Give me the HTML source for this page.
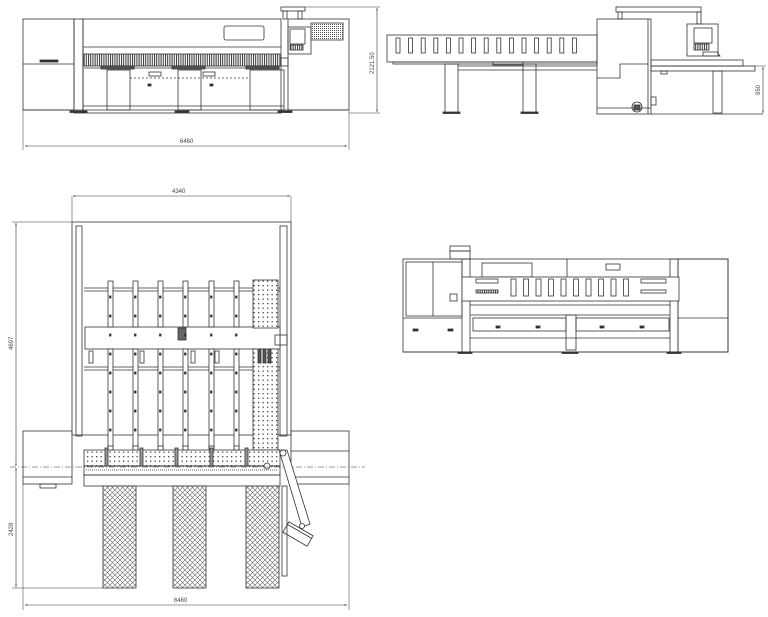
<!DOCTYPE html>
<html><head><meta charset="utf-8"><style>
html,body{margin:0;padding:0;background:#fff;}
svg{display:block;}
text{font-family:"Liberation Sans",sans-serif;font-size:6px;fill:#444;}
</style></head><body>
<svg id="s" width="768" height="617" viewBox="0 0 768 617" xmlns="http://www.w3.org/2000/svg">
<defs>
<pattern id="hatch" width="2.2" height="4" patternUnits="userSpaceOnUse"><rect width="2.2" height="4" fill="#fff"/><rect width="1" height="4" fill="#333"/></pattern>
<pattern id="fine" width="2" height="2" patternUnits="userSpaceOnUse"><rect width="2" height="2" fill="#fff"/><rect width="1" height="1" fill="#555"/></pattern>
<pattern id="dots" width="4.5" height="4.5" patternUnits="userSpaceOnUse"><rect width="4.5" height="4.5" fill="#fff"/><rect x="1.5" y="1.5" width="1.3" height="1.3" fill="#444"/></pattern>
<pattern id="cross" width="5" height="5" patternUnits="userSpaceOnUse"><rect width="5" height="5" fill="#fff"/><path d="M0 0L5 5M5 0L0 5" stroke="#666" stroke-width="0.6"/></pattern>
<marker id="ar" viewBox="0 0 10 10" refX="10" refY="5" markerWidth="6" markerHeight="4" orient="auto-start-reverse"><path d="M0 2L10 5L0 8z" fill="#333"/></marker>
</defs>
<g fill="none" stroke="#333" stroke-width="0.8" id="g">
<!-- VIEW 1 -->
<rect x="23" y="19" width="51" height="91"/>
<line x1="23" y1="64" x2="74" y2="64"/>
<rect x="40" y="60" width="18" height="2" fill="#333"/>
<rect x="74" y="19" width="9" height="94"/>
<rect x="83" y="19" width="198" height="94"/>
<line x1="83" y1="47" x2="281" y2="47"/>
<rect x="224" y="26" width="40" height="14" rx="2"/>
<rect x="84" y="54" width="196" height="12" fill="url(#hatch)"/>
<line x1="84" y1="68" x2="280" y2="68"/>
<rect x="107" y="70" width="23" height="40"/>
<rect x="178" y="70" width="23" height="40"/>
<rect x="250" y="70" width="34" height="40"/>
<rect x="101" y="66" width="33" height="3" fill="#555"/>
<rect x="172" y="66" width="33" height="3" fill="#555"/>
<rect x="246" y="66" width="33" height="3" fill="#555"/>
<rect x="149" y="72" width="12" height="4"/><rect x="203" y="72" width="12" height="4"/>
<rect x="148" y="84" width="3" height="2" fill="#333"/><rect x="210" y="84" width="3" height="2" fill="#333"/>
<line x1="130" y1="78" x2="250" y2="78" stroke-dasharray="2 2"/>
<line x1="83" y1="106" x2="284" y2="106"/>
<rect x="281" y="58" width="7" height="8"/>
<rect x="288" y="19" width="61" height="91"/>
<rect x="311" y="23" width="32" height="17" fill="url(#fine)"/>
<rect x="288" y="27" width="23" height="27"/>
<rect x="290" y="29" width="15" height="15"/>
<rect x="290" y="45" width="13" height="5" fill="url(#hatch)"/>
<rect x="281" y="7" width="24" height="4"/>
<rect x="283" y="11" width="4" height="8"/><rect x="298" y="11" width="4" height="8"/>
<line x1="23" y1="110" x2="349" y2="110"/>
<rect x="70" y="111" width="17" height="1.5" fill="#333"/><rect x="175" y="111" width="14" height="1.5" fill="#333"/><rect x="278" y="111" width="14" height="1.5" fill="#333"/>
<line x1="23" y1="110" x2="23" y2="150" stroke-width="0.5"/>
<line x1="349" y1="110" x2="349" y2="150" stroke-width="0.5"/>
<line x1="25" y1="146" x2="347" y2="146" stroke-width="0.6" marker-start="url(#ar)" marker-end="url(#ar)"/>
<line x1="305" y1="7" x2="380" y2="7" stroke-width="0.5"/>
<line x1="349" y1="113" x2="380" y2="113" stroke-width="0.5"/>
<line x1="377" y1="8" x2="377" y2="112" stroke-width="0.6" marker-start="url(#ar)" marker-end="url(#ar)"/>

<!-- VIEW 2 -->
<rect x="387" y="35" width="210" height="27"/>
<rect x="393" y="62" width="204" height="2"/>
<line x1="458" y1="70" x2="597" y2="70"/>
<line x1="458" y1="66" x2="597" y2="66"/>
<rect x="445" y="64" width="13" height="49"/>
<rect x="523" y="64" width="13" height="49"/>
<rect x="443" y="112" width="17" height="1.5" fill="#333"/><rect x="521" y="112" width="17" height="1.5" fill="#333"/>
<rect x="493" y="62" width="30" height="3"/>
<rect x="597" y="19" width="54" height="95"/>
<line x1="648" y1="19" x2="648" y2="114"/>
<path d="M597 78 L620 78 L620 64 L648 64"/>
<line x1="597" y1="108" x2="651" y2="108"/>
<circle cx="637" cy="107" r="5"/><rect x="634" y="105" width="6" height="5" fill="#555"/>
<rect x="651" y="97" width="5" height="8"/>
<rect x="616" y="7" width="85" height="5"/>
<rect x="618" y="12" width="4" height="7"/><rect x="697" y="12" width="4" height="12"/>
<rect x="687" y="24" width="31" height="32"/>
<rect x="694" y="28" width="18" height="15"/>
<rect x="694" y="44" width="15" height="6" fill="url(#hatch)"/>
<path d="M703 52 L717 52 L720 56 L703 56z"/>
<rect x="651" y="60" width="92" height="6"/>
<rect x="651" y="66" width="104" height="5"/>
<rect x="713" y="71" width="9" height="42"/>
<rect x="661" y="71" width="6" height="3"/>
<line x1="651" y1="114" x2="763" y2="114"/>
<line x1="755" y1="66" x2="766" y2="66" stroke-width="0.5"/>
<line x1="763" y1="67" x2="763" y2="113" stroke-width="0.6" marker-start="url(#ar)" marker-end="url(#ar)"/>

<!-- VIEW 3 -->
<line x1="72" y1="196" x2="72" y2="222" stroke-width="0.5"/>
<line x1="291" y1="196" x2="291" y2="222" stroke-width="0.5"/>
<line x1="73" y1="196" x2="290" y2="196" stroke-width="0.6" marker-start="url(#ar)" marker-end="url(#ar)"/>
<rect x="72" y="222" width="219" height="213"/>
<rect x="76" y="226" width="6" height="210"/>
<rect x="280" y="226" width="7" height="210"/>
<line x1="84" y1="288" x2="280" y2="288"/><line x1="84" y1="291" x2="280" y2="291"/>
<line x1="84" y1="367" x2="280" y2="367"/><line x1="84" y1="370" x2="280" y2="370"/>
<rect x="85" y="327" width="195" height="22" fill="#fff"/>
<rect x="178" y="328" width="8" height="12" fill="#666"/>
<rect x="253" y="280" width="25" height="48" fill="url(#dots)"/>
<rect x="253" y="349" width="25" height="101" fill="url(#dots)"/>
<rect x="275" y="335" width="12" height="10"/>
<rect x="23" y="431" width="49" height="53"/>
<rect x="291" y="431" width="58" height="53"/>
<line x1="291" y1="451" x2="349" y2="451"/>
<line x1="23" y1="477" x2="72" y2="477"/><line x1="291" y1="477" x2="349" y2="477"/>
<rect x="40" y="484" width="16" height="4"/>
<rect x="84" y="450" width="196" height="16" fill="url(#dots)"/>
<rect x="84" y="466" width="196" height="9"/>
<line x1="86" y1="470" x2="278" y2="470" stroke-dasharray="1 1"/>
<rect x="84" y="475" width="196" height="11"/>
<circle cx="267" cy="466" r="3" fill="#fff"/>
<line x1="10" y1="467" x2="365" y2="467" stroke-dasharray="6 2 1 2" stroke-width="0.5"/>
<rect x="103" y="486" width="33" height="102" fill="url(#cross)"/>
<rect x="173" y="486" width="33" height="102" fill="url(#cross)"/>
<rect x="246" y="486" width="33" height="102" fill="url(#cross)"/>
<path d="M279 450 L287 450 L310 524 L302 527z" fill="#fff"/>
<circle cx="283" cy="453" r="3" fill="#fff"/>
<g transform="translate(298,534) rotate(30)"><rect x="-14" y="-6" width="28" height="12" fill="#fff"/><line x1="-14" y1="-3" x2="14" y2="-3"/></g>
<circle cx="302" cy="526" r="2.5" fill="#fff"/>
<rect x="282" y="486" width="5" height="90"/>
<line x1="12" y1="222" x2="72" y2="222" stroke-width="0.5"/>
<line x1="12" y1="588" x2="103" y2="588" stroke-width="0.5"/>
<line x1="16" y1="223" x2="16" y2="466" stroke-width="0.6" marker-start="url(#ar)" marker-end="url(#ar)"/>
<line x1="16" y1="468" x2="16" y2="587" stroke-width="0.6" marker-start="url(#ar)" marker-end="url(#ar)"/>
<line x1="23" y1="484" x2="23" y2="610" stroke-width="0.5"/>
<line x1="349" y1="484" x2="349" y2="610" stroke-width="0.5"/>
<line x1="25" y1="605" x2="347" y2="605" stroke-width="0.6" marker-start="url(#ar)" marker-end="url(#ar)"/>

<!-- VIEW 4 -->
<rect x="403" y="259" width="325" height="93"/>
<rect x="406" y="262" width="56" height="54"/>
<line x1="433" y1="262" x2="433" y2="316"/>
<rect x="450" y="294" width="7" height="7"/>
<line x1="403" y1="318" x2="462" y2="318"/>
<rect x="413" y="329" width="5" height="2" fill="#333"/><rect x="448" y="329" width="5" height="2" fill="#333"/>
<rect x="450" y="246" width="20" height="5"/><rect x="450" y="251" width="20" height="8"/>
<rect x="462" y="259" width="8" height="93"/>
<rect x="670" y="259" width="8" height="93"/>
<rect x="678" y="259" width="50" height="93"/>
<line x1="678" y1="318" x2="728" y2="318"/>
<rect x="482" y="263" width="50" height="14"/>
<line x1="567" y1="259" x2="567" y2="277"/>
<rect x="606" y="264" width="14" height="6"/>
<rect x="462" y="277" width="217" height="24" fill="#fff"/>
<rect x="476" y="279" width="22" height="4"/>
<rect x="476" y="290" width="22" height="3" fill="url(#hatch)"/>
<rect x="641" y="279" width="25" height="4"/>
<rect x="641" y="290" width="25" height="3"/>
<line x1="470" y1="305" x2="670" y2="305"/>
<line x1="470" y1="315" x2="670" y2="315"/>
<rect x="473" y="318" width="93" height="13"/>
<rect x="576" y="318" width="93" height="13"/>
<rect x="496" y="326" width="4" height="2" fill="#333"/><rect x="536" y="326" width="4" height="2" fill="#333"/>
<rect x="600" y="326" width="4" height="2" fill="#333"/><rect x="640" y="326" width="4" height="2" fill="#333"/>
<line x1="470" y1="338" x2="670" y2="338"/>
<rect x="566" y="315" width="10" height="35"/>
<line x1="403" y1="352" x2="728" y2="352"/>
<rect x="458" y="352" width="14" height="1.5" fill="#333"/><rect x="562" y="352" width="16" height="1.5" fill="#333"/><rect x="667" y="352" width="14" height="1.5" fill="#333"/>
</g>
<text x="180" y="143">6460</text>
<text transform="translate(374,74) rotate(-90)">2121.50</text>
<text transform="translate(760,95) rotate(-90)">950</text>
<text x="172" y="193">4340</text>
<text transform="translate(13,350) rotate(-90)">4697</text>
<text transform="translate(13,536) rotate(-90)">2428</text>
<text x="174" y="602">6460</text>
<script>
var g=document.getElementById('g'),NS='http://www.w3.org/2000/svg';
function r(x,y,w,h,f){var e=document.createElementNS(NS,'rect');e.setAttribute('x',x);e.setAttribute('y',y);e.setAttribute('width',w);e.setAttribute('height',h);if(f)e.setAttribute('fill',f);g.appendChild(e);}
for(var i=0;i<15;i++)r(396+i*12.6,38,4,15);
for(var i=0;i<10;i++)r(511+i*12.5,279,5,17,'#fff');
var xs=[108,133,158,183,209,234];
for(var i=0;i<6;i++){r(xs[i],281,5,46,'#fff');r(xs[i],349,5,101,'#fff');r(xs[i],446,5,4,'#fff');
 for(var j=0;j<8;j++)r(xs[i]+1.5,296+j*19,1.5,2,'#333');}
r(89,351,4,12,'#fff');r(140,351,4,12,'#fff');r(191,351,4,12,'#fff');r(215,351,4,12,'#fff');
r(258,349,3,14,'#555');r(263,349,3,14,'#555');r(268,349,3,14,'#555');
r(105,448,3,18,'#999');r(140,448,3,18,'#999');r(175,448,3,18,'#999');r(210,448,3,18,'#999');r(245,448,3,18,'#999');
</script>
</svg>
</body></html>
